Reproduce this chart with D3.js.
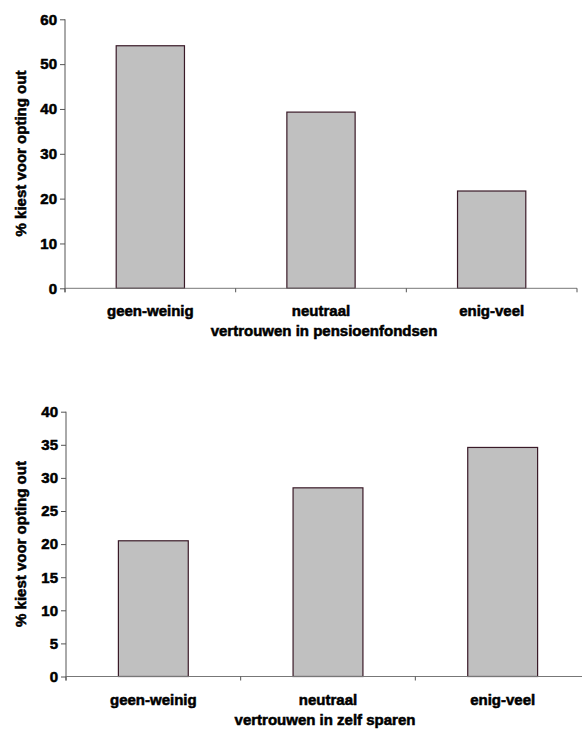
<!DOCTYPE html>
<html>
<head>
<meta charset="utf-8">
<script src="https://cdn.jsdelivr.net/npm/d3@7/dist/d3.min.js"></script>
<style>
  html, body { margin: 0; padding: 0; background: #fff; }
  svg { display: block; }
  text.lbl { font-family: "Liberation Sans", Arial, sans-serif; font-weight: 700; fill: #000;
             stroke: #000; stroke-width: 0.55px; paint-order: stroke; }
</style>
</head>
<body>
<svg id="chart" width="582" height="733"></svg>
<script>
// ---- data ----
const categories = ["geen-weinig", "neutraal", "enig-veel"];
const pensioenValues = [54.1, 39.3, 21.7];
const zelfValues = [20.5, 28.5, 34.6];
const pensioenTicks = [0, 10, 20, 30, 40, 50, 60];
const zelfTicks = [0, 5, 10, 15, 20, 25, 30, 35, 40];
const yTitle = "% kiest voor opting out";
const pensioenTitle = "vertrouwen in pensioenfondsen";
const zelfTitle = "vertrouwen in zelf sparen";

const svg = d3.select("#chart");

function drawChart(opts) {
  const { values, ticks, xTitle, x0, x1, yTop, yBottom, titleX, yLabelY } = opts;
  const g = svg.append("g");
  const x = d3.scaleBand().domain(categories).range([x0, x1])
    .paddingInner(0.6).paddingOuter(0.3);
  const y = d3.scaleLinear().domain([0, d3.max(ticks)]).range([yBottom, yTop]);

  // bars
  g.selectAll("rect.bar").data(categories).enter().append("rect")
    .attr("class", "bar")
    .attr("x", d => x(d))
    .attr("width", x.bandwidth())
    .attr("y", (d, i) => y(values[i]))
    .attr("height", (d, i) => y(0) - y(values[i]))
    .attr("fill", "#c0c0c0")
    .attr("stroke", "#3a1a28")
    .attr("stroke-width", 1.2);

  // y axis
  const yAxis = d3.axisLeft(y).tickValues(ticks).tickSize(5).tickPadding(3).tickFormat(d3.format("d"));
  const ya = g.append("g").attr("transform", `translate(${x0},0)`).call(yAxis);
  ya.attr("font-family", null).attr("font-size", null);
  ya.select(".domain").attr("stroke", "#555").attr("d", `M-0,${y(0) + 4}V${yTop}`);
  ya.selectAll(".tick line").attr("stroke", "#555");
  ya.selectAll(".tick text").attr("class", "lbl").style("font-size", "15px").attr("fill", "#000");

  // x axis (category) line and boundary ticks
  g.append("line").attr("x1", x0).attr("x2", x1).attr("y1", y(0)).attr("y2", y(0))
    .attr("stroke", "#777").attr("stroke-width", 1);
  const bounds = categories.map(d => x(d) - x.step() * x.paddingOuter()).concat([x1]);
  g.selectAll("line.xt").data(bounds).enter().append("line")
    .attr("class", "xt")
    .attr("x1", d => d).attr("x2", d => d)
    .attr("y1", y(0)).attr("y2", y(0) + 4)
    .attr("stroke", "#555");

  // category labels
  g.selectAll("text.cat").data(categories).enter().append("text")
    .attr("class", "cat lbl")
    .attr("x", d => x(d) + x.bandwidth() / 2)
    .attr("y", y(0) + 28)
    .attr("text-anchor", "middle")
    .style("font-size", "15px")
    .text(d => d);

  // x title
  g.append("text").attr("class", "lbl").attr("x", titleX).attr("y", y(0) + 48)
    .attr("text-anchor", "middle").style("font-size", "15px").text(xTitle);

  // y title
  g.append("text").attr("class", "lbl")
    .attr("transform", `translate(26,${yLabelY}) rotate(-90)`)
    .attr("text-anchor", "middle").style("font-size", "15px").text(yTitle);
}

drawChart({ values: pensioenValues, ticks: pensioenTicks, xTitle: pensioenTitle,
  x0: 65, x1: 577, yTop: 19.3, yBottom: 288.3, titleX: 324, yLabelY: 153.5 });
drawChart({ values: zelfValues, ticks: zelfTicks, xTitle: zelfTitle,
  x0: 66, x1: 590, yTop: 411.7, yBottom: 676.5, titleX: 325, yLabelY: 544 });
</script>
</body>
</html>
